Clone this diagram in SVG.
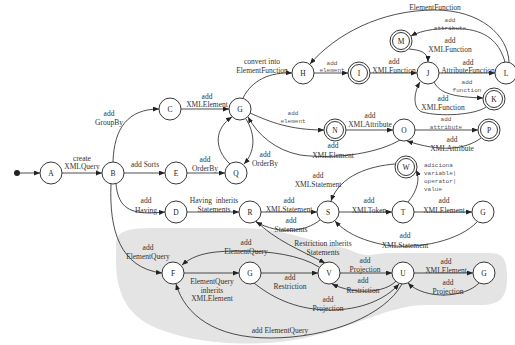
<svg xmlns="http://www.w3.org/2000/svg" width="515" height="345" viewBox="0 0 515 345">
<defs>
<marker id="ah" markerUnits="userSpaceOnUse" markerWidth="6" markerHeight="5" refX="6" refY="2.5" orient="auto"><path d="M0,0 L6,2.5 L0,5 z" fill="#222"/></marker>
<style>
.n{fill:#fff;stroke:#222;stroke-width:0.9}
.nt{font-family:"Liberation Serif",serif;font-size:7.5px;fill:#222;text-anchor:middle}
.e{fill:none;stroke:#222;stroke-width:0.8;marker-end:url(#ah)}
.l{font-family:"Liberation Serif",serif;font-size:7.5px;fill:#333;text-anchor:middle}
.m{font-family:"Liberation Mono",monospace;font-size:6px;fill:#555;text-anchor:middle}
.ml{font-family:"Liberation Mono",monospace;font-size:6px;fill:#555}
</style>
</defs>
<rect width="515" height="345" fill="#fff"/>
<path id="blob" d="M116,245 C116,229 130,228 160,228 L240,228 C285,228 315,243 340,247 C352,249 358,256 370,255 C378,254 382,253 395,253 L490,253 C505,253 507,262 507,278 C507,298 500,305 480,305 L425,305 C385,305 340,336 280,342 C230,347 180,340 150,325 C125,312 116,290 116,260 Z" fill="#e4e4e4"/>
<g id="connectors">
<circle cx="17" cy="173" r="3" fill="#222"/>
<path class="e" d="M20,173 L40,173"/>
<path class="e" d="M62,173 L102,173"/>
<path class="e" d="M113,162 C114,128 128,109 159,109"/>
<path class="e" d="M124,173 L165,173"/>
<path class="e" d="M116,184 C118,204 126,213 150,213 L165,212"/>
<path class="e" d="M111,184 C109,230 120,268 162,273"/>
<path class="e" d="M181,109 L229,109"/>
<path class="e" d="M187,173 L225,173"/>
<path class="e" d="M230,164 C213,148 215,128 232,117"/>
<path class="e" d="M246,119 C256,135 255,152 244,164"/>
<path class="e" d="M243,98 C252,80 270,72 292,73"/>
<path class="e" d="M314,73 L348,73"/>
<path class="e" d="M370,73 L417,73"/>
<path class="e" d="M439,73 L495,73"/>
<path class="e" d="M509,62 C508,35 480,10 435,10 C380,10 335,35 310,64"/>
<path class="e" d="M505,62 C500,45 490,32 465,29 C440,27 422,30 411,36"/>
<path class="e" d="M409,49 C420,50 428,52 428,62"/>
<path class="e" d="M434,82 C440,94 455,97 483,98"/>
<path class="e" d="M486,107 C475,115 440,117 422,112 C412,108 414,92 420,82"/>
<path class="e" d="M250,113 C270,122 290,130 324,130"/>
<path class="e" d="M346,130 L393,130"/>
<path class="e" d="M415,130 L478,130"/>
<path class="e" d="M481,138 C465,150 440,152 407,141"/>
<path class="e" d="M400,140 C380,152 340,160 300,155 C275,150 258,135 248,117"/>
<path class="e" d="M187,212 L239,212"/>
<path class="e" d="M261,212 L317,212"/>
<path class="e" d="M320,220 C305,232 280,235 256,222"/>
<path class="e" d="M339,212 L392,212"/>
<path class="e" d="M408,202 C418,190 420,178 416,170"/>
<path class="e" d="M395,164 C370,166 340,175 331,201"/>
<path class="e" d="M414,212 L472,212"/>
<path class="e" d="M477,222 C460,240 420,250 385,245 C360,240 345,232 335,221"/>
<path class="e" d="M256,221 C275,240 300,250 325,263"/>
<path class="e" d="M184,273 L239,273"/>
<path class="e" d="M261,273 L318,273"/>
<path class="e" d="M319,267 C300,255 270,251 240,251 C210,251 195,254 182,265"/>
<path class="e" d="M340,273 L392,273"/>
<path class="e" d="M396,281 C385,293 355,295 332,284"/>
<path class="e" d="M254,283 C275,300 300,310 330,310 C360,310 385,300 399,284"/>
<path class="e" d="M402,284 C385,315 330,338 270,338 C215,338 185,315 176,284"/>
<path class="e" d="M414,273 L473,273"/>
<path class="e" d="M479,283 C465,298 425,300 408,283"/>
</g>
<g id="labels">
<text class="l" x="82" y="160.5">create</text><text class="l" x="82" y="169">XMLQuery</text>
<text class="l" x="109" y="115.5">add</text><text class="l" x="109" y="124.5">GroupBy</text>
<text class="l" x="145" y="166.5">add Sorts</text>
<text class="l" x="146" y="203">add</text><text class="l" x="146" y="212.5">Having</text>
<text class="l" x="148" y="250">add</text><text class="l" x="148" y="259">ElementQuery</text>
<text class="l" x="207" y="98.5">add</text><text class="l" x="207" y="107">XMLElement</text>
<text class="l" x="205" y="161.5">add</text><text class="l" x="205" y="171">OrderBy</text>
<text class="l" x="265" y="156.5">add</text><text class="l" x="265" y="165.5">OrderBy</text>
<text class="l" x="262" y="63.5">convert into</text><text class="l" x="262" y="72.5">ElementFunction</text>
<text class="m" x="332" y="64.5">add</text><text class="m" x="332" y="72">element</text>
<text class="l" x="394" y="63.5">add</text><text class="l" x="394" y="72.5">XMLFunction</text>
<text class="l" x="468" y="64.5">add</text><text class="l" x="468" y="73">AttributeFunction</text>
<text class="l" x="435" y="9.5">ElementFunction</text>
<text class="m" x="450" y="22">add</text><text class="m" x="450" y="30">attribute</text>
<text class="l" x="450" y="43">add</text><text class="l" x="450" y="52">XMLFunction</text>
<text class="m" x="467" y="83.5">add</text><text class="m" x="467" y="92">function</text>
<text class="l" x="443" y="101">add</text><text class="l" x="443" y="110">XMLFunction</text>
<text class="m" x="293" y="115">add</text><text class="m" x="293" y="123">element</text>
<text class="l" x="370" y="117.5">add</text><text class="l" x="370" y="126.5">XMLAttribute</text>
<text class="m" x="446" y="121">add</text><text class="m" x="446" y="129">attribute</text>
<text class="l" x="452" y="142">add</text><text class="l" x="452" y="151">XMLAttribute</text>
<text class="l" x="333" y="148">add</text><text class="l" x="333" y="157.5">XMLElement</text>
<text class="l" x="214" y="202.5" xml:space="preserve">Having  inherits</text><text class="l" x="214" y="211.5">Statements</text>
<text class="l" x="289" y="202.5">add</text><text class="l" x="289" y="211.5">XMLStatement</text>
<text class="l" x="291" y="222.5">add</text><text class="l" x="291" y="231.5">Statements</text>
<text class="l" x="369" y="203">add</text><text class="l" x="369" y="212.5">XMLToken</text>
<text class="ml" x="424" y="167">adiciona</text><text class="ml" x="424" y="175">variable|</text><text class="ml" x="424" y="183">operator|</text><text class="ml" x="424" y="190.5">value</text>
<text class="l" x="318" y="178">add</text><text class="l" x="318" y="187">XMLStatement</text>
<text class="l" x="444" y="203">add</text><text class="l" x="444" y="212.5">XMLElement</text>
<text class="l" x="405" y="238">add</text><text class="l" x="405" y="247.5">XMLStatement</text>
<text class="l" x="323" y="245.5">Restriction inherits</text><text class="l" x="323" y="254.5">Statements</text>
<text class="l" x="246" y="245">add</text><text class="l" x="246" y="254">ElementQuery</text>
<text class="l" x="212" y="283.5">ElementQuery</text><text class="l" x="212" y="292.5">inherits</text><text class="l" x="212" y="301">XMLElement</text>
<text class="l" x="290" y="280">add</text><text class="l" x="290" y="289">Restriction</text>
<text class="l" x="365" y="263">add</text><text class="l" x="365" y="272">Projection</text>
<text class="l" x="363" y="283">add</text><text class="l" x="363" y="292.5">Restriction</text>
<text class="l" x="328" y="302">add</text><text class="l" x="328" y="311">Projection</text>
<text class="l" x="280" y="332.5">add ElementQuery</text>
<text class="l" x="446" y="264">add</text><text class="l" x="446" y="273">XMLElement</text>
<text class="l" x="448" y="285">add</text><text class="l" x="448" y="294">Projection</text>
</g>
<g id="nA"><circle class="n" cx="51" cy="173" r="11"/><text class="nt" x="51" y="175.7">A</text></g>
<g id="nB"><circle class="n" cx="113" cy="173" r="11"/><text class="nt" x="113" y="175.7">B</text></g>
<g id="nC"><circle class="n" cx="170" cy="109" r="11"/><text class="nt" x="170" y="111.7">C</text></g>
<g id="nE"><circle class="n" cx="176" cy="173" r="11"/><text class="nt" x="176" y="175.7">E</text></g>
<g id="nD"><circle class="n" cx="176" cy="212" r="11"/><text class="nt" x="176" y="214.7">D</text></g>
<g id="nG1"><circle class="n" cx="240" cy="109" r="11"/><text class="nt" x="240" y="111.7">G</text></g>
<g id="nQ"><circle class="n" cx="236" cy="173" r="11"/><text class="nt" x="236" y="175.7">Q</text></g>
<g id="nH"><circle class="n" cx="303" cy="73" r="11"/><text class="nt" x="303" y="75.7">H</text></g>
<g id="nI"><circle class="n" cx="359" cy="73" r="11"/><circle class="n" cx="359" cy="73" r="8.5"/><text class="nt" x="359" y="75.7">I</text></g>
<g id="nJ"><circle class="n" cx="428" cy="73" r="11"/><text class="nt" x="428" y="75.7">J</text></g>
<g id="nL"><circle class="n" cx="506" cy="73" r="11"/><text class="nt" x="506" y="75.7">L</text></g>
<g id="nM"><circle class="n" cx="401" cy="41" r="11"/><circle class="n" cx="401" cy="41" r="8.5"/><text class="nt" x="401" y="43.7">M</text></g>
<g id="nK"><circle class="n" cx="494" cy="99" r="11"/><circle class="n" cx="494" cy="99" r="8.5"/><text class="nt" x="494" y="101.7">K</text></g>
<g id="nN"><circle class="n" cx="335" cy="130" r="11"/><circle class="n" cx="335" cy="130" r="8.5"/><text class="nt" x="335" y="132.7">N</text></g>
<g id="nO"><circle class="n" cx="404" cy="130" r="11"/><text class="nt" x="404" y="132.7">O</text></g>
<g id="nP"><circle class="n" cx="489" cy="130" r="11"/><circle class="n" cx="489" cy="130" r="8.5"/><text class="nt" x="489" y="132.7">P</text></g>
<g id="nW"><circle class="n" cx="406" cy="167" r="11"/><circle class="n" cx="406" cy="167" r="8.5"/><text class="nt" x="406" y="169.7">W</text></g>
<g id="nR"><circle class="n" cx="250" cy="212" r="11"/><text class="nt" x="250" y="214.7">R</text></g>
<g id="nS"><circle class="n" cx="328" cy="212" r="11"/><text class="nt" x="328" y="214.7">S</text></g>
<g id="nT"><circle class="n" cx="403" cy="212" r="11"/><text class="nt" x="403" y="214.7">T</text></g>
<g id="nG2"><circle class="n" cx="483" cy="212" r="11"/><text class="nt" x="483" y="214.7">G</text></g>
<g id="nF"><circle class="n" cx="173" cy="273" r="11"/><text class="nt" x="173" y="275.7">F</text></g>
<g id="nG3"><circle class="n" cx="250" cy="273" r="11"/><text class="nt" x="250" y="275.7">G</text></g>
<g id="nV"><circle class="n" cx="329" cy="273" r="11"/><text class="nt" x="329" y="275.7">V</text></g>
<g id="nU"><circle class="n" cx="403" cy="273" r="11"/><text class="nt" x="403" y="275.7">U</text></g>
<g id="nG4"><circle class="n" cx="484" cy="273" r="11"/><text class="nt" x="484" y="275.7">G</text></g>
</svg>
